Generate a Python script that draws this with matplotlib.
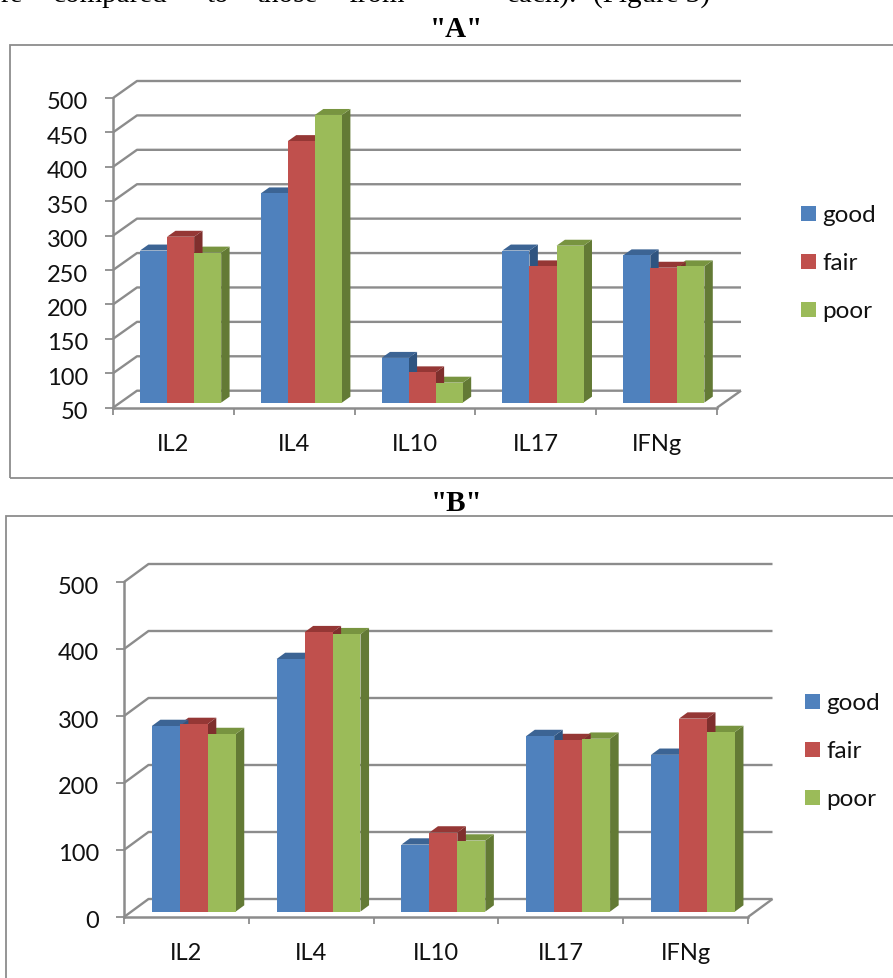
import matplotlib
matplotlib.use("Agg")
import matplotlib.pyplot as plt
from matplotlib.patches import Polygon, Rectangle
from matplotlib.transforms import ScaledTranslation

W, H = 893, 979

categories = ["IL2", "IL4", "IL10", "IL17", "IFNg"]
series = ["good", "fair", "poor"]

# verdier lest av figuren
a_good = [271, 354, 115, 271, 264]
a_fair = [291, 430, 94, 248, 246]
a_poor = [268, 468, 79, 278, 248]
a_ticks = [50, 100, 150, 200, 250, 300, 350, 400, 450, 500]

b_good = [277, 377, 100, 262, 234]
b_fair = [280, 417, 118, 256, 288]
b_poor = [265, 414, 106, 258, 268]
b_ticks = [0, 100, 200, 300, 400, 500]

front = ["#4f81bd", "#c0504d", "#9bbb59"]
top = ["#3c6494", "#953735", "#789440"]
side = ["#2f5480", "#7f2f2d", "#637a35"]
GRID = "#8c8c8c"
FONT = "Lato"
INK = "#111111"


def px_axes(fig, x0, y0, x1, y1):
    # piksler fra toppen til figurkoordinater
    return fig.add_axes([x0 / W, 1 - y1 / H, (x1 - x0) / W, (y1 - y0) / H])


def draw_chart(fig, box, plot, depth_px, values, ticks, leg_x, leg_y):
    # ramme rundt diagrammet
    fig.add_artist(Rectangle((box[0] / W, 1 - box[3] / H), (box[2] - box[0]) / W,
                             (box[3] - box[1]) / H, transform=fig.transFigure,
                             fill=False, ec=GRID, lw=1.3))

    ax = px_axes(fig, *plot)
    ax.set_xlim(0, len(categories))
    ax.set_ylim(ticks[0], ticks[-1])
    ax.patch.set_visible(False)

    # skjev projeksjon: d=0 foran, d=1 bakveggen
    kx = depth_px[0] / (plot[2] - plot[0]) * len(categories)
    ky = depth_px[1] / (plot[3] - plot[1]) * (ticks[-1] - ticks[0])

    def p(x, v, d):
        return (x + d * kx, v + d * ky)

    def add_line(pts, lw=1.7, z=1):
        ax.plot([q[0] for q in pts], [q[1] for q in pts], color=GRID, lw=lw,
                clip_on=False, zorder=z, solid_capstyle="butt")

    n = len(categories)
    for t in ticks:
        add_line([p(0, t, 0), p(0, t, 1), p(n, t, 1)])
    add_line([p(n, ticks[0], 0), p(n, ticks[0], 1)])

    base = ticks[0]
    bar_w = 0.224
    d0, d1 = 0.3, 0.65
    for i in range(n):
        start = i + 0.5 - 1.5 * bar_w
        for s in [2, 1, 0]:
            x0 = start + s * bar_w
            x1 = x0 + bar_w
            v = values[s][i]
            ax.add_patch(Polygon([p(x1, base, d0), p(x1, base, d1), p(x1, v, d1), p(x1, v, d0)],
                                 fc=side[s], ec="none", clip_on=False, zorder=3))
            ax.add_patch(Polygon([p(x0, v, d0), p(x1, v, d0), p(x1, v, d1), p(x0, v, d1)],
                                 fc=top[s], ec="none", clip_on=False, zorder=3))
        for s in range(3):
            x0 = start + s * bar_w
            v = values[s][i]
            ax.add_patch(Polygon([p(x0, base, d0), p(x0 + bar_w, base, d0),
                                  p(x0 + bar_w, v, d0), p(x0, v, d0)],
                                 fc=front[s], ec="none", clip_on=False, zorder=4))

    for name in ["top", "right"]:
        ax.spines[name].set_visible(False)
    for name in ["left", "bottom"]:
        ax.spines[name].set_color(GRID)
        ax.spines[name].set_linewidth(1.8)
        ax.spines[name].set_zorder(2)

    ax.set_yticks(ticks)
    ax.set_xticks(range(n + 1))
    ax.set_xticklabels([])
    ax.set_xticks([i + 0.5 for i in range(n)], minor=True)
    ax.set_xticklabels(categories, minor=True, fontsize=17, family=FONT, color=INK)
    ax.tick_params(axis="x", which="major", length=5, color=GRID, width=1.3)
    ax.tick_params(axis="x", which="minor", length=0, pad=18)
    ax.tick_params(axis="y", length=6, color=GRID, width=1.3, pad=12,
                   labelsize=17, labelcolor=INK)
    # tallene staar litt lavere enn merkene
    shift = ScaledTranslation(0, -2 / 100, fig.dpi_scale_trans)
    for lab in ax.get_yticklabels():
        lab.set_family(FONT)
        lab.set_transform(lab.get_transform() + shift)

    # forklaring
    for s, name in enumerate(series):
        y = leg_y + s * 48
        fig.add_artist(Rectangle((leg_x / W, 1 - (y + 7.5) / H), 15 / W, 15 / H,
                                 transform=fig.transFigure, fc=front[s], ec="none"))
        fig.text((leg_x + 21) / W, 1 - y / H, name, fontsize=17.5, family=FONT,
                 color=INK, va="center_baseline")


fig = plt.figure(figsize=(W / 100, H / 100), dpi=100)

# toppen av teksten er kuttet av bildet
words = [("re", 0), ("compared", 53), ("to", 207), ("those", 257), ("from", 348),
         ("each).", 507), ("(Figure 3)", 593)]
for word, x in words:
    fig.text(x / W, 1 - 2 / H, word, fontsize=21, family="Liberation Serif", va="baseline")
fig.text(456.5 / W, 1 - 37 / H, '"A"', fontsize=21, fontweight="bold",
         family="Liberation Serif", ha="center", va="baseline")
fig.text(456.5 / W, 1 - 511 / H, '"B"', fontsize=21, fontweight="bold",
         family="Liberation Serif", ha="center", va="baseline")

draw_chart(fig, (10, 46, 905, 479), (113, 99, 717, 408.7), (24, 17),
           [a_good, a_fair, a_poor], a_ticks, 801, 214)
draw_chart(fig, (6, 517, 905, 995), (124, 583, 748, 918), (24.5, 18),
           [b_good, b_fair, b_poor], b_ticks, 805, 702)

fig.savefig("out.png", dpi=100)
